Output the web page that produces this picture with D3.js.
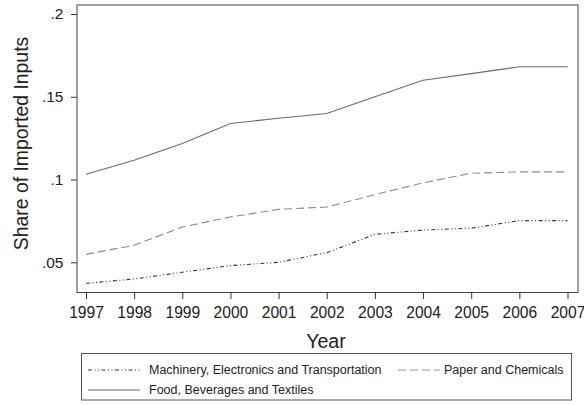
<!DOCTYPE html>
<html>
<head>
<meta charset="utf-8">
<script src="https://cdn.jsdelivr.net/npm/d3@7"></script>
<style>
  html, body { margin: 0; padding: 0; background: #fff; }
  svg { display: block; font-family: "Liberation Sans", Arial, sans-serif; }
</style>
</head>
<body>
<svg id="chart" width="584" height="405"></svg>
<script>
// Share of imported inputs by industry group, 1997-2007
const years = [1997, 1998, 1999, 2000, 2001, 2002, 2003, 2004, 2005, 2006, 2007];
const machinery = [0.0373, 0.0399, 0.0440, 0.0480, 0.0500, 0.0558, 0.0669, 0.0695, 0.0706, 0.0752, 0.0752];
const paper     = [0.0548, 0.0603, 0.0713, 0.0774, 0.0820, 0.0834, 0.0909, 0.0980, 0.1038, 0.1046, 0.1046];
const food      = [0.1032, 0.1117, 0.1218, 0.1339, 0.1370, 0.1399, 0.1500, 0.1600, 0.1640, 0.1681, 0.1681];
const seriesNames = ["Machinery, Electronics and Transportation", "Paper and Chemicals", "Food, Beverages and Textiles"];
const yTickValues = [0.05, 0.1, 0.15, 0.2];
const yTickLabels = [".05", ".1", ".15", ".2"];

const svg = d3.select("#chart");
const frame = { left: 77, right: 578, top: 5, bottom: 292.5 };

const x = d3.scaleLinear().domain([1997, 2007]).range([86, 567.5]);
const y = d3.scaleLinear().domain([0.05, 0.2]).range([262.3, 14]);

const styles = [
  { color: "#333", width: 1.1, dash: "4,2.5,1,2.5,1,2.5" },
  { color: "#8a8a8a", width: 1.1, dash: "8,4" },
  { color: "#6a6a6a", width: 1.1, dash: null }
];
const seriesData = [machinery, paper, food];

// plot frame
svg.append("rect")
  .attr("x", frame.left).attr("y", frame.top)
  .attr("width", frame.right - frame.left).attr("height", frame.bottom - frame.top)
  .attr("fill", "none").attr("stroke", "#444").attr("stroke-width", 1);

// axes
const yAxis = d3.axisLeft(y).tickValues(yTickValues)
  .tickFormat((d, i) => yTickLabels[i]).tickSize(6).tickPadding(7.5);
const gy = svg.append("g").attr("transform", `translate(${frame.left},0)`).call(yAxis);
gy.select(".domain").remove();
gy.selectAll("line").attr("stroke", "#333");
gy.selectAll("text").attr("font-size", 15.5).attr("fill", "#222")
  .attr("font-family", "Liberation Sans, Arial, sans-serif");

const xAxis = d3.axisBottom(x).tickValues(years).tickFormat(d3.format("d")).tickSize(6.5).tickPadding(8);
const gx = svg.append("g").attr("transform", `translate(0,${frame.bottom})`).call(xAxis);
gx.select(".domain").remove();
gx.selectAll("line").attr("stroke", "#333");
gx.selectAll("text").attr("font-size", 15.6).attr("fill", "#222")
  .attr("font-family", "Liberation Sans, Arial, sans-serif");

// axis titles
svg.append("text")
  .attr("transform", `translate(27.5,143.5) rotate(-90)`)
  .attr("text-anchor", "middle").attr("font-size", 19.4).attr("fill", "#222")
  .text("Share of Imported Inputs");
svg.append("text")
  .attr("x", 326).attr("y", 348.3)
  .attr("text-anchor", "middle").attr("font-size", 19.6).attr("fill", "#222")
  .text("Year");

// series lines
const line = d3.line().x((d, i) => x(years[i])).y(d => y(d));
seriesData.forEach((vals, k) => {
  svg.append("path").datum(vals)
    .attr("d", line)
    .attr("fill", "none")
    .attr("stroke", styles[k].color)
    .attr("stroke-width", styles[k].width)
    .attr("stroke-dasharray", styles[k].dash);
});

// legend
const lg = svg.append("g");
lg.append("rect").attr("x", 81.5).attr("y", 353.5).attr("width", 490).attr("height", 46.5)
  .attr("fill", "#fff").attr("stroke", "#555").attr("stroke-width", 1);
const legendItems = [
  { x1: 88, x2: 140, tx: 149, ty: 370 },
  { x1: 398, x2: 440, tx: 444, ty: 370 },
  { x1: 88, x2: 140, tx: 149, ty: 390 }
];
legendItems.forEach((it, k) => {
  lg.append("line").attr("x1", it.x1).attr("x2", it.x2).attr("y1", it.ty).attr("y2", it.ty)
    .attr("stroke", styles[k].color).attr("stroke-width", styles[k].width)
    .attr("stroke-dasharray", styles[k].dash);
  lg.append("text").attr("x", it.tx).attr("y", it.ty).attr("dy", "0.35em")
    .attr("font-size", 12.5).attr("fill", "#222").text(seriesNames[k]);
});
</script>
</body>
</html>
